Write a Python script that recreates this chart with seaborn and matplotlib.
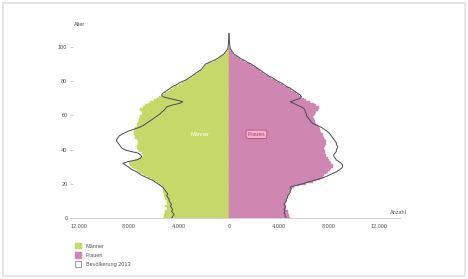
import numpy as np
import pandas as pd
import matplotlib.pyplot as plt
import seaborn as sns
from matplotlib.patches import Patch, Rectangle

# Alter in Jahren
ages = list(range(0, 101))
ages_2013 = list(range(0, 109))

# Bevoelkerung in Tausend je Altersjahr
maenner = [5.3, 5.2, 5.2, 5.1, 5.1, 5.0, 5.0, 5.1, 5.0, 5.0,
           5.0, 5.1, 5.1, 5.2, 5.2, 5.3, 5.3, 5.3, 5.3, 5.4,
           5.6, 5.8, 6.0, 6.2, 6.5, 6.8, 7.0, 7.2, 7.4, 7.6,
           7.8, 7.9, 8.0, 7.9, 7.5, 7.1, 6.9, 6.9, 7.0, 7.2,
           7.3, 7.4, 7.4, 7.3, 7.3, 7.3, 7.4, 7.5, 7.5, 7.6,
           7.6, 7.6, 7.5, 7.5, 7.4, 7.4, 7.3, 7.2, 7.2, 7.1,
           7.1, 7.0, 7.0, 7.1, 7.1, 6.9, 6.7, 6.5, 6.3, 6.0,
           5.8, 5.6, 5.3, 5.1, 4.9, 4.7, 4.5, 4.3, 4.0, 3.8,
           3.5, 3.3, 3.1, 2.9, 2.7, 2.5, 2.3, 2.1, 2.0, 1.9,
           1.8, 1.5, 1.2, 0.9, 0.7, 0.5, 0.3, 0.2, 0.1, 0.05, 0.03]

frauen = [4.9, 4.8, 4.8, 4.7, 4.7, 4.6, 4.6, 4.6, 4.5, 4.6,
          4.6, 4.6, 4.7, 4.7, 4.8, 4.8, 4.9, 5.0, 5.2, 5.6,
          6.2, 6.7, 7.0, 7.3, 7.5, 7.6, 7.8, 7.9, 8.1, 8.2,
          8.3, 8.3, 8.2, 8.1, 8.0, 7.9, 7.8, 7.8, 7.7, 7.7,
          7.6, 7.6, 7.7, 7.8, 7.8, 7.8, 7.7, 7.6, 7.5, 7.5,
          7.4, 7.3, 7.3, 7.2, 7.1, 7.0, 6.9, 6.9, 6.8, 6.7,
          6.8, 6.9, 7.0, 7.1, 7.2, 7.2, 7.0, 6.8, 6.5, 6.2,
          6.0, 5.8, 5.6, 5.4, 5.2, 5.0, 4.8, 4.5, 4.3, 4.1,
          3.8, 3.6, 3.4, 3.1, 2.9, 2.7, 2.5, 2.3, 2.1, 1.9,
          1.7, 1.4, 1.2, 0.9, 0.7, 0.5, 0.3, 0.2, 0.1, 0.06, 0.03]

maenner_2013 = [4.6, 4.5, 4.4, 4.5, 4.6, 4.5, 4.6, 4.7, 4.6, 4.7,
                4.8, 4.8, 4.9, 5.0, 4.9, 5.0, 5.1, 5.2, 5.3, 5.5,
                5.7, 5.9, 6.1, 6.4, 6.7, 7.0, 7.2, 7.4, 7.7, 7.9,
                8.1, 8.3, 8.5, 8.1, 7.4, 7.1, 7.0, 7.1, 7.3, 7.9,
                8.4, 8.6, 8.7, 8.8, 8.9, 9.0, 9.0, 8.9, 8.8, 8.6,
                8.3, 8.0, 7.6, 7.2, 6.9, 6.7, 6.5, 6.3, 6.1, 5.9,
                5.7, 5.5, 5.4, 5.2, 5.1, 5.0, 4.6, 4.0, 3.7, 4.2,
                4.8, 5.3, 5.4, 5.3, 5.1, 4.9, 4.7, 4.5, 4.2, 4.0,
                3.7, 3.4, 3.2, 3.0, 2.8, 2.6, 2.4, 2.2, 2.1, 2.0,
                1.9, 1.6, 1.3, 1.0, 0.8, 0.6, 0.4, 0.3, 0.2, 0.1,
                0.08, 0.06, 0.05, 0.04, 0.03, 0.02, 0.02, 0.01, 0.01]

frauen_2013 = [4.6, 4.5, 4.5, 4.4, 4.5, 4.4, 4.5, 4.5, 4.4, 4.5,
               4.6, 4.6, 4.7, 4.7, 4.8, 4.9, 4.9, 5.0, 4.9, 5.3,
               5.9, 6.3, 6.8, 7.3, 7.7, 8.0, 8.3, 8.6, 8.8, 9.0,
               9.1, 9.1, 9.0, 8.8, 8.6, 8.5, 8.4, 8.4, 8.5, 8.6,
               8.6, 8.7, 8.7, 8.6, 8.6, 8.5, 8.4, 8.3, 8.2, 8.1,
               8.0, 7.8, 7.6, 7.4, 7.1, 6.8, 6.6, 6.5, 6.4, 6.3,
               6.2, 6.2, 6.1, 6.1, 6.0, 5.8, 5.5, 5.2, 4.9, 5.3,
               5.7, 5.8, 5.7, 5.5, 5.3, 5.1, 4.9, 4.6, 4.4, 4.2,
               3.9, 3.7, 3.5, 3.2, 3.0, 2.8, 2.6, 2.4, 2.2, 2.0,
               1.8, 1.5, 1.3, 1.0, 0.8, 0.6, 0.4, 0.3, 0.2, 0.12,
               0.08, 0.06, 0.05, 0.04, 0.03, 0.02, 0.02, 0.01, 0.01]

xticks = [-12000, -8000, -4000, 0, 4000, 8000, 12000]
xticklabels = ['12.000', '8.000', '4.000', '0', '4.000', '8.000', '12.000']
yticks = [0, 20, 40, 60, 80, 100]
legend_labels = ['Männer', 'Frauen', 'Bevölkerung 2013']

green = '#c6d86a'
pink = '#cf86b0'
line_col = '#4a4a5a'
text_col = '#555555'

sns.set_theme(style='white')
plt.rcParams['font.family'] = ['Liberation Sans', 'DejaVu Sans']

df = pd.DataFrame({'Alter': ages,
                   'Maenner': -np.array(maenner) * 1000,
                   'Frauen': np.array(frauen) * 1000})
df13 = pd.DataFrame({'Alter': ages_2013,
                     'Maenner': -np.array(maenner_2013) * 1000,
                     'Frauen': np.array(frauen_2013) * 1000})

fig = plt.figure(figsize=(4.68, 2.79), dpi=100)
fig.patches.append(Rectangle((3 / 468, 3 / 279), 462 / 468, 273 / 279, transform=fig.transFigure,
                             fill=False, edgecolor='#e2e2e2', linewidth=1.2))
ax = fig.add_axes([73 / 468, 61 / 279, 327 / 468, 188 / 279])

sns.barplot(data=df, x='Maenner', y='Alter', orient='y', native_scale=True, color=green,
            saturation=1, width=1, errorbar=None, linewidth=0.3, edgecolor=green, ax=ax)
sns.barplot(data=df, x='Frauen', y='Alter', orient='y', native_scale=True, color=pink,
            saturation=1, width=1, errorbar=None, linewidth=0.3, edgecolor=pink, ax=ax)
sns.lineplot(data=df13, x='Maenner', y='Alter', orient='y', sort=False, color=line_col,
             linewidth=0.7, ax=ax)
sns.lineplot(data=df13, x='Frauen', y='Alter', orient='y', sort=False, color=line_col,
             linewidth=0.7, ax=ax)

ax.set_xlim(-12500, 13700)
ax.set_ylim(0, 110)
ax.set_xlabel('')
ax.set_ylabel('')
ax.set_xticks(xticks)
ax.set_xticklabels(xticklabels)
ax.set_yticks(yticks)
ax.set_yticklabels([str(t) for t in yticks])
ax.tick_params(axis='x', length=0, labelsize=4, colors=text_col, pad=4)
ax.tick_params(axis='y', length=2, width=0.5, labelsize=4, colors=text_col, pad=2, left=True)
ax.tick_params(axis='y', color='#bbbbbb')
for side in ['top', 'right', 'left']:
    ax.spines[side].set_visible(False)
ax.spines['bottom'].set_color('#cccccc')
ax.spines['bottom'].set_linewidth(0.6)

ax.text(-2300, 49, 'Männer', fontsize=4, color='white', ha='center', va='center')
ax.text(2200, 49, 'Frauen', fontsize=4, color='#c0306a', ha='center', va='center',
        bbox=dict(boxstyle='round,pad=0.3', facecolor='#eab6d0', edgecolor='#c0306a', linewidth=0.5))

fig.text(80 / 468, 1 - 24 / 279, 'Alter', fontsize=4, color=text_col, ha='center', va='center')
fig.text(398 / 468, 1 - 213 / 279, 'Anzahl', fontsize=4, color=text_col, ha='center', va='center')

handles = [Patch(facecolor=green, edgecolor=green),
           Patch(facecolor=pink, edgecolor=pink),
           Patch(facecolor='white', edgecolor='#8a8aa0', linewidth=0.6)]
fig.legend(handles, legend_labels, loc='upper left', bbox_to_anchor=(72 / 468, 1 - 240 / 279),
           frameon=False, fontsize=4, handlelength=1.2, handleheight=1.2, labelspacing=0.6,
           borderpad=0, handletextpad=0.8, labelcolor=text_col)

plt.savefig('out.png', dpi=100)
